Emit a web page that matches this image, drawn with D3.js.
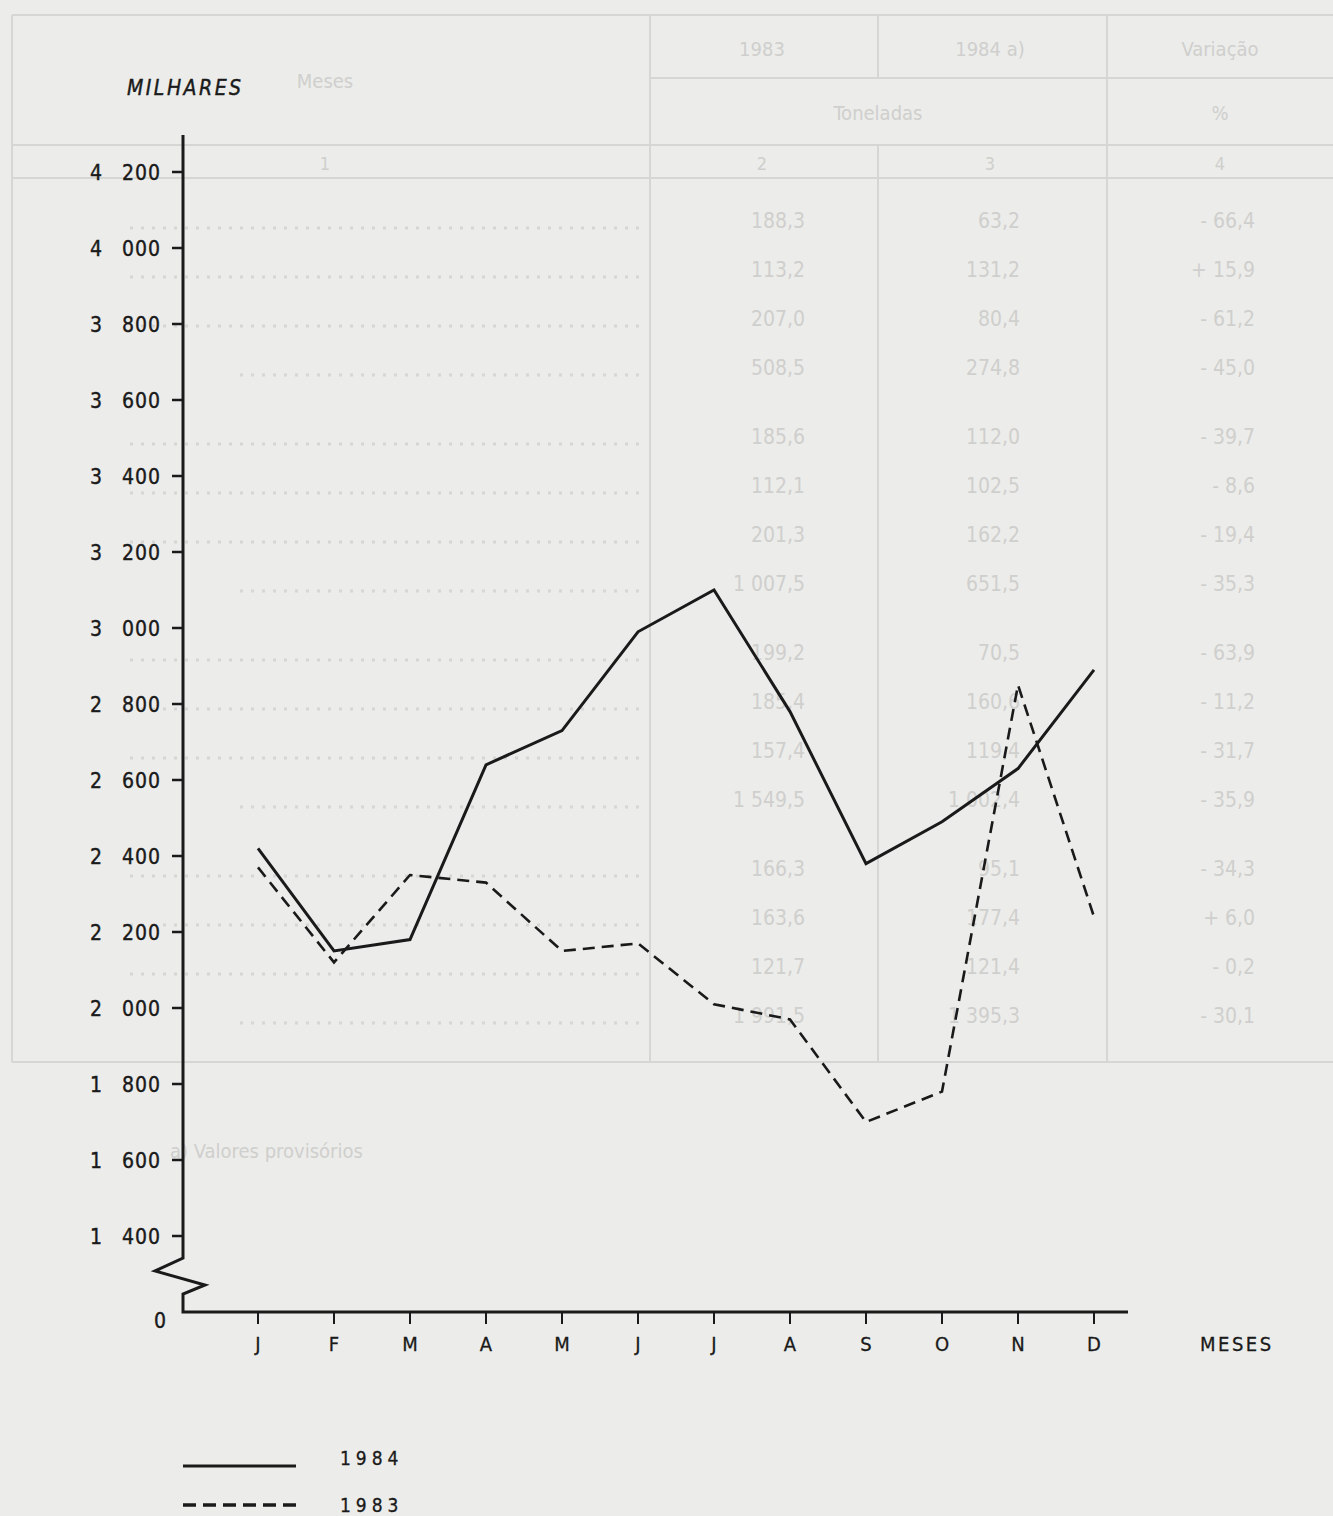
<!DOCTYPE html>
<html><head><meta charset="utf-8">
<script src="https://cdn.jsdelivr.net/npm/d3@7/dist/d3.min.js"></script>
<style>
html,body{margin:0;padding:0;background:#ececea;}
svg{display:block;}
</style></head>
<body>
<svg id="c" width="1333" height="1516"></svg>
<script>
// ---- chart data ----
const months = ["J","F","M","A","M","J","J","A","S","O","N","D"];
const series1984 = [2420, 2150, 2180, 2640, 2730, 2990, 3100, 2780, 2380, 2490, 2630, 2890];
const series1983 = [2370, 2120, 2350, 2330, 2150, 2170, 2010, 1970, 1700, 1780, 2850, 2240];
const yTicks = [1400,1600,1800,2000,2200,2400,2600,2800,3000,3200,3400,3600,3800,4000,4200];
const yTickLabels = ["1 400","1 600","1 800","2 000","2 200","2 400","2 600","2 800","3 000","3 200","3 400","3 600","3 800","4 000","4 200"];
const legendLabels = ["1984","1983"];

// ---- faint bleed-through table (reverse of page) ----
const tableGroup = [0,0,0,0,1,1,1,1,2,2,2,2,3,3,3,3];
const tableSub = [false,false,false,true,false,false,false,true,false,false,false,true,false,false,false,true];
const table1983 = ["188,3","113,2","207,0","508,5","185,6","112,1","201,3","1 007,5","199,2","185,4","157,4","1 549,5","166,3","163,6","121,7","1 991,5"];
const table1984 = ["63,2","131,2","80,4","274,8","112,0","102,5","162,2","651,5","70,5","160,6","119,4","1 002,4","95,1","177,4","121,4","1 395,3"];
const tableVar = ["- 66,4","+ 15,9","- 61,2","- 45,0","- 39,7","- 8,6","- 19,4","- 35,3","- 63,9","- 11,2","- 31,7","- 35,9","- 34,3","+ 6,0","- 0,2","- 30,1"];
const tableHead = ["1983","1984 a)","Variação"];
const tableUnits = ["Toneladas","%"];
const tableColNums = ["1","2","3","4"];

const svg = d3.select("#c");
const ghost = svg.append("g").attr("class","ghost");
const gc = "#d6d6d4", gt = "#cfcfcd";
const tf = "'DejaVu Sans Condensed','Liberation Sans Narrow',sans-serif";

// table frame
const frame = [[12,15,1333,15],[12,15,12,1062],[12,1062,1333,1062],[650,15,650,1062],[878,15,878,78],[878,145,878,1062],[1107,15,1107,1062],[650,78,1333,78],[12,145,1333,145],[12,178,1333,178]];
ghost.selectAll("line.f").data(frame).join("line").attr("class","f")
  .attr("x1",d=>d[0]).attr("y1",d=>d[1]).attr("x2",d=>d[2]).attr("y2",d=>d[3])
  .attr("stroke",gc).attr("stroke-width",2);
ghost.append("text").attr("x",325).attr("y",88).attr("text-anchor","middle").attr("fill",gt)
  .attr("font-family",tf).attr("font-size",20).text("Meses");
ghost.selectAll("text.h").data(tableHead).join("text").attr("class","h")
  .attr("x",(d,i)=>[762,990,1220][i]).attr("y",56).attr("text-anchor","middle").attr("fill",gt)
  .attr("font-family",tf).attr("font-size",20).text(d=>d);
ghost.selectAll("text.u").data(tableUnits).join("text").attr("class","u")
  .attr("x",(d,i)=>[878,1220][i]).attr("y",120).attr("text-anchor","middle").attr("fill",gt)
  .attr("font-family",tf).attr("font-size",20).text(d=>d);
ghost.selectAll("text.n").data(tableColNums).join("text").attr("class","n")
  .attr("x",(d,i)=>[325,762,990,1220][i]).attr("y",170).attr("text-anchor","middle").attr("fill",gt)
  .attr("font-family",tf).attr("font-size",18).text(d=>d);
const rowY = (i)=> 228 + i*49 + tableGroup[i]*20;
const rows = ghost.selectAll("g.r").data(table1983).join("g").attr("class","r");
rows.append("line").attr("x1",(d,i)=>tableSub[i]?240:130).attr("x2",640)
  .attr("y1",(d,i)=>rowY(i)).attr("y2",(d,i)=>rowY(i))
  .attr("stroke",gc).attr("stroke-width",3).attr("stroke-dasharray","3,8");
rows.append("text").attr("x",805).attr("y",(d,i)=>rowY(i)).attr("text-anchor","end")
  .attr("fill",gt).attr("font-family",tf).attr("font-size",21).text((d,i)=>table1983[i]);
rows.append("text").attr("x",1020).attr("y",(d,i)=>rowY(i)).attr("text-anchor","end")
  .attr("fill",gt).attr("font-family",tf).attr("font-size",21).text((d,i)=>table1984[i]);
rows.append("text").attr("x",1255).attr("y",(d,i)=>rowY(i)).attr("text-anchor","end")
  .attr("fill",gt).attr("font-family",tf).attr("font-size",21).text((d,i)=>tableVar[i]);
ghost.append("text").attr("x",170).attr("y",1158).attr("fill",gt).attr("font-family",tf)
  .attr("font-size",20).text("a) Valores provisórios");

// ---- main chart ----
const ink = "#1a1a1a";
const lf = "'DejaVu Sans Condensed','Liberation Sans Narrow',sans-serif";
const x = d3.scalePoint().domain(d3.range(months.length)).range([258,1094]);
const y = d3.scaleLinear().domain([1200,4200]).range([1312,172]);
const x0 = 183;
const g = svg.append("g");

// y axis with break
const yAxisPath = [[x0,135],[x0,1258],[155,1271],[205,1285],[x0,1294],[x0,y(1200)],[1128,y(1200)]];
g.append("path").attr("d",d3.line()(yAxisPath)).attr("fill","none").attr("stroke",ink)
  .attr("stroke-width",3).attr("stroke-linejoin","miter");

// y ticks
g.selectAll("line.yt").data(yTicks).join("line").attr("class","yt")
  .attr("x1",x0-11).attr("x2",x0).attr("y1",d=>y(d)).attr("y2",d=>y(d))
  .attr("stroke",ink).attr("stroke-width",2.5);
const yl = g.selectAll("g.yl").data(yTicks).join("g").attr("class","yl");
yl.append("text").attr("x",96).attr("y",d=>y(d)+8).attr("text-anchor","middle")
  .attr("font-family",lf).attr("font-size",21).attr("fill",ink)
  .attr("stroke",ink).attr("stroke-width",0.4)
  .text((d,i)=>yTickLabels[i].split(" ")[0]);
yl.append("text").attr("x",161).attr("y",d=>y(d)+8).attr("text-anchor","end")
  .attr("font-family",lf).attr("font-size",21).attr("fill",ink).attr("letter-spacing",1)
  .attr("stroke",ink).attr("stroke-width",0.4)
  .text((d,i)=>yTickLabels[i].split(" ")[1]);
g.append("text").attr("x",160).attr("y",y(1200)+16).attr("text-anchor","middle")
  .attr("font-family",lf).attr("font-size",21).attr("fill",ink)
  .attr("stroke",ink).attr("stroke-width",0.4).text("0");

// x ticks and labels
g.selectAll("line.xt").data(months).join("line").attr("class","xt")
  .attr("x1",(d,i)=>x(i)).attr("x2",(d,i)=>x(i)).attr("y1",y(1200)).attr("y2",y(1200)+12)
  .attr("stroke",ink).attr("stroke-width",2);
g.selectAll("text.xl").data(months).join("text").attr("class","xl")
  .attr("x",(d,i)=>x(i)).attr("y",y(1200)+39).attr("text-anchor","middle")
  .attr("font-family",lf).attr("font-size",20).attr("fill",ink)
  .attr("stroke",ink).attr("stroke-width",0.3).text(d=>d);
g.append("text").attr("x",1200).attr("y",y(1200)+39).attr("font-family",lf)
  .attr("font-size",20).attr("letter-spacing",2.5).attr("fill",ink)
  .attr("stroke",ink).attr("stroke-width",0.3).text("MESES");
g.append("text").attr("x",127).attr("y",95).attr("font-family",lf).attr("font-style","italic")
  .attr("font-size",21).attr("letter-spacing",2.5).attr("fill",ink)
  .attr("stroke",ink).attr("stroke-width",0.4).text("MILHARES");

// series lines
const line = d3.line().x((d,i)=>x(i)).y(d=>y(d));
g.append("path").datum(series1983).attr("d",line).attr("fill","none").attr("stroke",ink)
  .attr("stroke-width",2.6).attr("stroke-dasharray","12,7");
g.append("path").datum(series1984).attr("d",line).attr("fill","none").attr("stroke",ink)
  .attr("stroke-width",3).attr("stroke-linejoin","miter");

// legend
const lg = g.selectAll("g.lg").data(legendLabels).join("g").attr("class","lg")
  .attr("transform",(d,i)=>`translate(0,${1466+i*39})`);
lg.append("line").attr("x1",183).attr("x2",296).attr("y1",0).attr("y2",0)
  .attr("stroke",ink).attr("stroke-width",(d,i)=>i?3.5:3)
  .attr("stroke-dasharray",(d,i)=>i?"13,7":null);
lg.append("text").attr("x",340).attr("y",(d,i)=>i?7:-1).attr("font-family",lf)
  .attr("font-size",19).attr("letter-spacing",5).attr("fill",ink)
  .attr("stroke",ink).attr("stroke-width",0.3).text(d=>d);
</script>
</body></html>
